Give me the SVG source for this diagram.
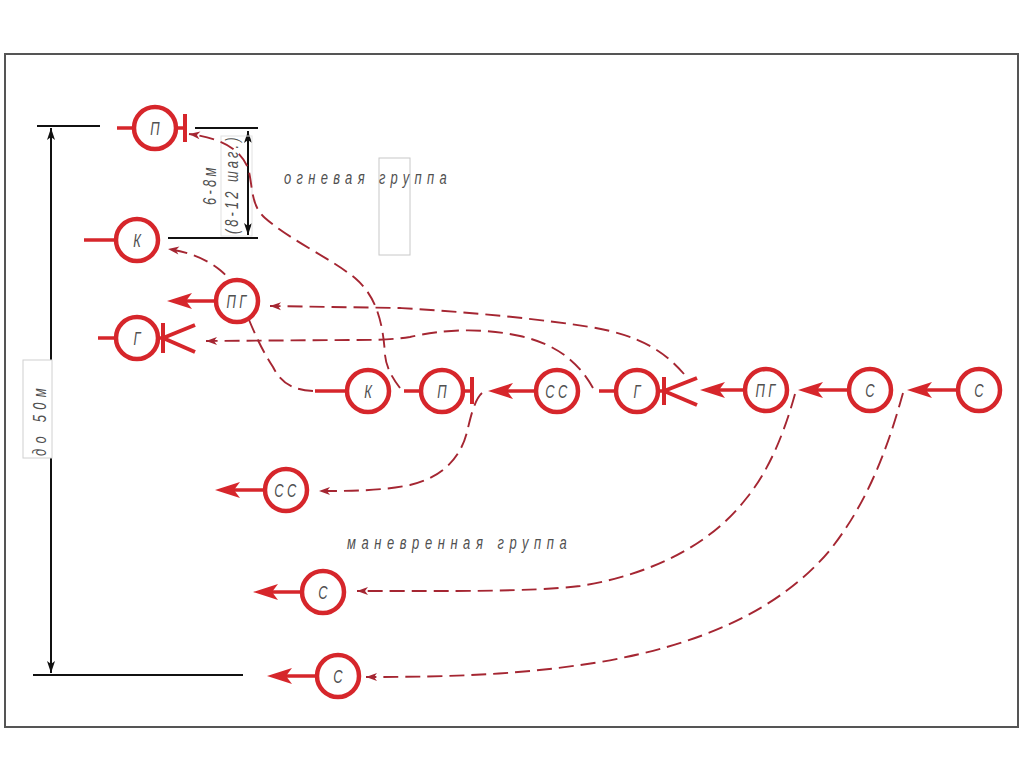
<svg xmlns="http://www.w3.org/2000/svg" xmlns:xlink="http://www.w3.org/1999/xlink" width="1024" height="767" viewBox="0 0 1024 767">
<style>
.frame{fill:#fff;stroke:#555;stroke-width:2}
.dim{stroke:#111;stroke-width:2;fill:none}
.ring{fill:#fff;stroke:#d6262b;stroke-width:4.5}
.red{stroke:#d6262b;stroke-width:3.5;fill:none}
.bar{stroke:#d6262b;stroke-width:4;fill:none}
.ah{fill:#d6262b}
.lbl{font-family:"Liberation Sans Narrow","Liberation Sans",sans-serif;font-size:19px;fill:#505050;text-anchor:middle;font-style:italic}
.cap{font-family:"Liberation Sans Narrow","Liberation Sans",sans-serif;font-size:18px;fill:#505050;font-style:italic}
.dash{fill:none;stroke:#a52632;stroke-width:1.9;stroke-dasharray:15 7;marker-end:url(#sa)}
.box{fill:none;stroke:#c8c8c8;stroke-width:1}
</style>
<defs>
<marker id="sa" viewBox="-12 -5 13 10" refX="0" refY="0" markerWidth="13" markerHeight="10" markerUnits="userSpaceOnUse" orient="auto">
<path d="M0 0 L-11 -4 L-8 0 L-11 4 Z" fill="#a52632"/>
</marker>
<marker id="ba" viewBox="-13 -5 14 10" refX="0" refY="0" markerWidth="14" markerHeight="10" markerUnits="userSpaceOnUse" orient="auto-start-reverse">
<path d="M0 0 L-12 -4 L-9 0 L-12 4 Z" fill="#111"/>
</marker>
<path id="ah" d="M0 0 L25 -8 L19 0 L25 8 Z"/>
</defs>
<rect x="0" y="0" width="1024" height="767" fill="#fff"/>
<rect class="frame" x="5" y="54" width="1013" height="673"/>

<g id="dimensions">
<line class="dim" x1="37" y1="126" x2="100" y2="126"/>
<line class="dim" x1="33" y1="675" x2="243" y2="675"/>
<line class="dim" x1="51" y1="128" x2="51" y2="673" marker-start="url(#ba)" marker-end="url(#ba)"/>
<rect x="23" y="360" width="29" height="98" fill="#fff" stroke="#d0d0d0" stroke-width="1"/>
<text class="cap" transform="translate(46,456) rotate(-90) scale(0.72,1)" textLength="94" lengthAdjust="spacing">до 50м</text>
<line class="dim" x1="195" y1="128" x2="258" y2="128"/>
<line class="dim" x1="168" y1="238" x2="258" y2="238"/>
<line class="dim" stroke-width="2.5" x1="248" y1="131" x2="248" y2="235" marker-start="url(#ba)" marker-end="url(#ba)"/>
<rect x="221" y="136" width="31" height="100" fill="none" stroke="#e2e2e2" stroke-width="1"/>
<text class="cap" transform="translate(216,205) rotate(-90) scale(0.72,1)" textLength="52" lengthAdjust="spacing">6-8м</text>
<text class="cap" transform="translate(238,234) rotate(-90) scale(0.72,1)" textLength="134" lengthAdjust="spacing">(8-12 шаг.)</text>
</g>

<g id="labels">
<rect class="box" x="379" y="158" width="31" height="97"/>
<text class="cap" transform="translate(284,184) scale(0.72,1)" textLength="226" lengthAdjust="spacing">огневая группа</text>
<text class="cap" transform="translate(347,549) scale(0.72,1)" textLength="305" lengthAdjust="spacing">маневренная группа</text>
</g>

<g id="connectors">
<path class="dash" d="M400 388 C390 375 386 365 385 355 C383 320 375 295 355 278 C330 258 290 240 265 218 C250 205 253 185 248 168 C240 148 220 138 189 134"/>
<path class="dash" d="M313 391 C295 390 282 385 273 367 C262 350 255 335 245 310 C238 290 232 280 220 270 C208 260 190 252 168 249"/>
<path class="dash" d="M684 374 C665 352 640 335 590 327 C540 319 470 312 400 308 L270 306"/>
<path class="dash" d="M593 388 C580 365 560 345 520 336 C480 327 440 330 410 337 C390 340 370 340 350 340 L206 341"/>
<path class="dash" d="M482 393 C474 400 470 420 467 432 C460 460 440 478 410 485 C380 491 350 491 319 491"/>
<path class="dash" d="M795 394 C785 430 770 470 745 500 C710 545 650 575 580 586 C530 592 450 591 357 591"/>
<path class="dash" d="M903 393 C890 440 870 500 830 550 C780 610 700 645 600 662 C520 675 450 677 366 677"/>
</g>

<g id="n_p_top">
<line class="red" x1="117" y1="128" x2="135" y2="128"/>
<line class="red" x1="175" y1="128" x2="185" y2="128"/>
<line class="bar" x1="185" y1="114" x2="185" y2="142"/>
<circle class="ring" cx="155" cy="128" r="21"/>
<text class="lbl" transform="translate(155,135) scale(0.68,1)">П</text>
</g>
<g id="n_k_top">
<line class="red" x1="84" y1="240" x2="117" y2="240"/>
<circle class="ring" cx="137" cy="240" r="21"/>
<text class="lbl" transform="translate(137,247) scale(0.68,1)">К</text>
</g>
<g id="n_pg_top">
<line class="red" x1="185" y1="301" x2="217" y2="301"/>
<use href="#ah" class="ah" x="167" y="301"/>
<circle class="ring" cx="237" cy="301" r="21"/>
<text class="lbl" transform="translate(238,308) scale(0.68,1)" letter-spacing="5">ПГ</text>
</g>
<g id="n_g_top">
<line class="red" x1="98" y1="338" x2="117" y2="338"/>
<line class="red" x1="157" y1="338" x2="163" y2="338"/>
<line class="bar" x1="163" y1="323" x2="163" y2="353"/>
<line class="bar" x1="163" y1="338" x2="195" y2="325"/>
<line class="bar" x1="163" y1="338" x2="195" y2="352"/>
<circle class="ring" cx="137" cy="338" r="21"/>
<text class="lbl" transform="translate(137,345) scale(0.68,1)">Г</text>
</g>
<g id="n_k">
<line class="red" x1="315" y1="391" x2="348" y2="391"/>
<circle class="ring" cx="368" cy="391" r="21"/>
<text class="lbl" transform="translate(368,398) scale(0.68,1)">К</text>
</g>
<g id="n_p">
<line class="red" x1="404" y1="391" x2="422" y2="391"/>
<line class="red" x1="462" y1="391" x2="472" y2="391"/>
<line class="bar" x1="472" y1="377" x2="472" y2="404"/>
<circle class="ring" cx="442" cy="391" r="21"/>
<text class="lbl" transform="translate(442,398) scale(0.68,1)">П</text>
</g>
<g id="n_ss">
<line class="red" x1="506" y1="391" x2="537" y2="391"/>
<use href="#ah" class="ah" x="488" y="391"/>
<circle class="ring" cx="557" cy="391" r="21"/>
<text class="lbl" transform="translate(558,398) scale(0.68,1)" letter-spacing="5">СС</text>
</g>
<g id="n_g">
<line class="red" x1="599" y1="391" x2="617" y2="391"/>
<line class="red" x1="657" y1="391" x2="664" y2="391"/>
<line class="bar" x1="664" y1="377" x2="664" y2="405"/>
<line class="bar" x1="664" y1="391" x2="697" y2="378"/>
<line class="bar" x1="664" y1="391" x2="697" y2="405"/>
<circle class="ring" cx="637" cy="391" r="21"/>
<text class="lbl" transform="translate(637,398) scale(0.68,1)">Г</text>
</g>
<g id="n_pg">
<line class="red" x1="718" y1="390" x2="746" y2="390"/>
<use href="#ah" class="ah" x="700" y="390"/>
<circle class="ring" cx="766" cy="390" r="21"/>
<text class="lbl" transform="translate(767,397) scale(0.68,1)" letter-spacing="5">ПГ</text>
</g>
<g id="n_s1">
<line class="red" x1="816" y1="390" x2="850" y2="390"/>
<use href="#ah" class="ah" x="798" y="390"/>
<circle class="ring" cx="870" cy="390" r="21"/>
<text class="lbl" transform="translate(870,397) scale(0.68,1)">С</text>
</g>
<g id="n_s2">
<line class="red" x1="925" y1="390" x2="959" y2="390"/>
<use href="#ah" class="ah" x="907" y="390"/>
<circle class="ring" cx="979" cy="390" r="21"/>
<text class="lbl" transform="translate(979,397) scale(0.68,1)">С</text>
</g>
<g id="n_ss_b">
<line class="red" x1="233" y1="490" x2="266" y2="490"/>
<use href="#ah" class="ah" x="215" y="490"/>
<circle class="ring" cx="286" cy="490" r="21"/>
<text class="lbl" transform="translate(287,497) scale(0.68,1)" letter-spacing="5">СС</text>
</g>
<g id="n_s_b1">
<line class="red" x1="271" y1="592" x2="303" y2="592"/>
<use href="#ah" class="ah" x="253" y="592"/>
<circle class="ring" cx="323" cy="592" r="21"/>
<text class="lbl" transform="translate(323,599) scale(0.68,1)">С</text>
</g>
<g id="n_s_b2">
<line class="red" x1="285" y1="676" x2="318" y2="676"/>
<use href="#ah" class="ah" x="267" y="676"/>
<circle class="ring" cx="338" cy="676" r="21"/>
<text class="lbl" transform="translate(338,683) scale(0.68,1)">С</text>
</g>
</svg>
